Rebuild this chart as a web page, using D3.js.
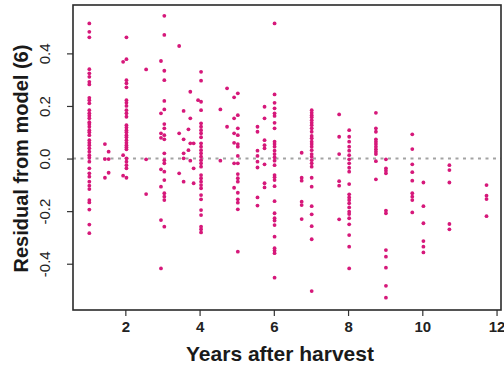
<!DOCTYPE html>
<html>
<head>
<meta charset="utf-8">
<script src="https://cdn.jsdelivr.net/npm/d3@7"></script>
<style>
  html, body { margin: 0; padding: 0; background: #fff; }
  svg { display: block; }
</style>
</head>
<body>
<div id="chart"></div>
<script>
// ---- data ----
const xTicks = [2, 4, 6, 8, 10, 12];
const yTicks = [-0.4, -0.2, 0.0, 0.2, 0.4];
const yTickLabels = ["-0.4", "-0.2", "0.0", "0.2", "0.4"];
const xTitle = "Years after harvest";
const yTitle = "Residual from model (6)";

// x position (years) of each vertical group of points
const groupYears = [1.03, 1.45, 1.55, 1.94, 2.03, 2.56, 2.96, 3.05, 3.45, 3.57, 3.70, 3.75, 3.84,
  3.96, 4.04, 4.56, 4.74, 4.93, 5.03, 5.56, 5.75, 6.02, 6.75, 7.02, 7.76, 8.03, 8.75, 9.02,
  9.73, 10.03, 10.73, 11.73];
// residuals in each group
const groupResiduals = [
  [0.514, 0.482, 0.461, 0.340, 0.324, 0.311, 0.292, 0.282, 0.231, 0.222, 0.210, 0.184, 0.172, 0.163,
   0.153, 0.138, 0.131, 0.121, 0.108, 0.100, 0.089, 0.070, 0.060, 0.051, 0.039, 0.026, 0.013, 0.003,
   -0.012, -0.037, -0.056, -0.069, -0.088, -0.103, -0.116, -0.158, -0.167, -0.194, -0.251, -0.284],
  [0.055, -0.002, -0.073],
  [0.026, -0.002, -0.054],
  [0.368, 0.013, -0.065],
  [0.461, 0.378, 0.298, 0.286, 0.271, 0.222, 0.212, 0.200, 0.184, 0.172, 0.159, 0.127, 0.118, 0.108,
   0.100, 0.089, 0.081, 0.070, 0.060, 0.051, 0.043, 0.035, 0.001, -0.012, -0.025, -0.037, -0.073],
  [0.339, -0.003, -0.135],
  [0.371, 0.172, 0.096, 0.079, -0.041, -0.107, -0.234, -0.418],
  [0.543, 0.470, 0.334, 0.298, 0.219, 0.187, 0.131, 0.115, 0.089, 0.073, 0.020, -0.006, -0.018,
   -0.050, -0.082, -0.132, -0.145, -0.158, -0.259],
  [0.428, 0.096, -0.056],
  [0.181, 0.073, 0.020, 0.001, -0.088],
  [0.111, 0.032],
  [0.254, 0.153, 0.058, -0.008],
  [0.058, -0.037, -0.094],
  [0.222],
  [0.330, 0.296, 0.216, 0.184, 0.134, 0.121, 0.108, 0.096, 0.081, 0.058, 0.045, 0.032, 0.020, 0.007,
   -0.006, -0.018, -0.031, -0.063, -0.075, -0.088, -0.101, -0.113, -0.139, -0.155, -0.196, -0.215,
   -0.259, -0.269, -0.281],
  [0.187, -0.008],
  [0.267, 0.121],
  [0.233, 0.153, 0.096, 0.060, -0.018, -0.111],
  [0.248, 0.165, 0.115, 0.089, 0.055, 0.045, 0.010, -0.018, -0.059, -0.075, -0.088, -0.130, -0.155,
   -0.168, -0.193, -0.354],
  [0.121, 0.102, 0.030, 0.010, -0.012, -0.034, -0.148, -0.179],
  [0.197, 0.153, 0.070, 0.051, 0.039, -0.022, -0.094, -0.110],
  [0.514, 0.244, 0.212, 0.191, 0.172, 0.162, 0.136, 0.115, 0.064, 0.055, 0.045, 0.030, 0.017, 0.005,
   -0.008, -0.025, -0.063, -0.071, -0.082, -0.105, -0.162, -0.208, -0.227, -0.236, -0.253, -0.297,
   -0.341, -0.350, -0.360, -0.453],
  [0.022, -0.073, -0.084, -0.164, -0.177, -0.230],
  [0.184, 0.174, 0.165, 0.157, 0.146, 0.136, 0.127, 0.115, 0.102, 0.086, 0.077, 0.064, 0.055, 0.045,
   0.032, 0.017, 0.007, -0.006, -0.018, -0.031, -0.073, -0.107, -0.181, -0.212, -0.257, -0.307, -0.504],
  [0.168, 0.083, 0.017, -0.086, -0.103, -0.231],
  [0.108, 0.083, 0.064, 0.045, 0.030, 0.013, -0.003, -0.018, -0.035, -0.050, -0.097, -0.136, -0.148,
   -0.158, -0.170, -0.186, -0.202, -0.211, -0.227, -0.250, -0.291, -0.335, -0.418],
  [0.174, 0.115, 0.102, 0.073, 0.064, 0.055, 0.045, 0.035, 0.026, 0.017, -0.010, -0.079],
  [-0.003, -0.037, -0.046, -0.056, -0.198, -0.208, -0.348, -0.373, -0.415, -0.484, -0.529],
  [0.092, 0.036, -0.022, -0.052, -0.084, -0.132, -0.145, -0.158, -0.205],
  [-0.091, -0.181, -0.246, -0.314, -0.335, -0.357],
  [-0.025, -0.044, -0.091, -0.249, -0.269],
  [-0.101, -0.141, -0.154, -0.219]
];

// ---- layout ----
const W = 504, H = 366;
const plot = { left: 73, right: 501, top: 5, bottom: 310 };
const pointColor = "#d6187a";

const points = [];
groupYears.forEach((yr, i) => groupResiduals[i].forEach(r => points.push({ x: yr, y: r })));

const x = d3.scaleLinear().domain([0.59, 12.12]).range([plot.left, plot.right]);
const y = d3.scaleLinear().domain([-0.576, 0.584]).range([plot.bottom, plot.top]);

const svg = d3.select("#chart").append("svg").attr("width", W).attr("height", H)
  .style("font-family", "'Liberation Sans', Arial, Helvetica, sans-serif");

// zero reference line
svg.append("line")
  .attr("x1", plot.left).attr("x2", plot.right)
  .attr("y1", y(0)).attr("y2", y(0))
  .attr("stroke", "#a3a3a3").attr("stroke-width", 2)
  .attr("stroke-dasharray", "3,4.5");

// points
svg.append("g").selectAll("circle").data(points).join("circle")
  .attr("cx", d => x(d.x)).attr("cy", d => y(d.y))
  .attr("r", 1.9).attr("fill", pointColor);

// axes
const xAxis = d3.axisBottom(x).tickValues(xTicks).tickSize(6).tickPadding(5).tickFormat(d3.format("d"));
const gx = svg.append("g").attr("transform", `translate(0,${plot.bottom})`).call(xAxis);
gx.select(".domain").remove();
gx.selectAll("line").attr("stroke", "#333").attr("stroke-width", 1.2);
gx.selectAll("text").attr("font-size", 15).attr("font-weight", "bold").attr("fill", "#222")
  .attr("font-family", "'Liberation Sans', Arial, sans-serif");

const yAxis = d3.axisLeft(y).tickValues(yTicks).tickSize(6).tickFormat((d, i) => yTickLabels[i]);
const gy = svg.append("g").attr("transform", `translate(${plot.left},0)`).call(yAxis);
gy.select(".domain").remove();
gy.selectAll("line").attr("stroke", "#333").attr("stroke-width", 1.2);
gy.selectAll("text")
  .attr("x", null).attr("dy", null)
  .attr("text-anchor", "middle")
  .attr("transform", d => `translate(-23,0) rotate(-90)`)
  .attr("y", 0)
  .attr("font-size", 15).attr("fill", "#222")
  .attr("font-family", "'Liberation Sans', Arial, sans-serif");

// frame
svg.append("rect")
  .attr("x", plot.left).attr("y", plot.top)
  .attr("width", plot.right - plot.left).attr("height", plot.bottom - plot.top)
  .attr("fill", "none").attr("stroke", "#2a2a2a").attr("stroke-width", 1.6);

// titles
svg.append("text")
  .attr("x", (plot.left + plot.right) / 2 - 7).attr("y", 361)
  .attr("text-anchor", "middle").attr("font-size", 21).attr("font-weight", "bold").attr("fill", "#1a1a1a")
  .text(xTitle);

svg.append("text")
  .attr("transform", `translate(28,${y(0)}) rotate(-90)`)
  .attr("text-anchor", "middle").attr("font-size", 20).attr("font-weight", "bold").attr("fill", "#1a1a1a")
  .text(yTitle);
</script>
</body>
</html>
